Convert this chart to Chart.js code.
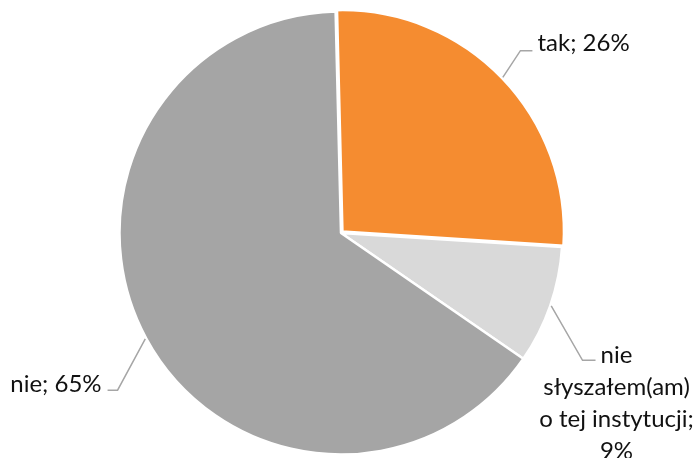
<!DOCTYPE html>
<html><head><meta charset="utf-8">
<script src="https://cdn.jsdelivr.net/npm/chart.js@4/dist/chart.umd.min.js"></script>
<style>html,body{margin:0;padding:0;background:#fff;}canvas{display:block;}</style>
</head><body>
<canvas id="c" width="698" height="458"></canvas>
<script>
const categories = ['tak', 'nie słyszałem(am) o tej instytucji', 'nie'];
const values = [26.4, 8.6, 65.0];
const colors = ['#F58C30', '#D9D9D9', '#A5A5A5'];

// label placement (leader elbow offsets from slice edge, horizontal tail, text layout)
const layout = [
  {dx: 17.6, dy: -26.7, h: 12, align: 'left', tx: 5, ty: 0, wrap: 0},
  {dx: 31.3, dy: 54.4, h: 13, align: 'center', tx: 21, ty: 3, wrap: 165},
  {dx: -27.7, dy: 51.4, h: -10, align: 'right', tx: -6, ty: 2, wrap: 0}
];
const FONT = '24px Lato';
const LINE_H = 32;

function wrapText(ctx, text, maxW) {
  if (!maxW) return [text];
  const words = text.split(' ');
  const lines = [];
  let cur = '';
  for (const w of words) {
    const t = cur ? cur + ' ' + w : w;
    if (cur && ctx.measureText(t).width > maxW) { lines.push(cur); cur = w; }
    else cur = t;
  }
  if (cur) lines.push(cur);
  return lines;
}

const leaderPlugin = {
  id: 'leaders',
  afterDatasetsDraw(chart) {
    const ctx = chart.ctx;
    const meta = chart.getDatasetMeta(0);
    const total = values.reduce((a, b) => a + b, 0);
    meta.data.forEach((arc, i) => {
      const p = arc.getProps(['x', 'y', 'startAngle', 'endAngle', 'outerRadius'], true);
      const off = (arc.options.offset || 0) / 4;
      const mid = (p.startAngle + p.endAngle) / 2;
      const cx = p.x + Math.cos(mid) * off, cy = p.y + Math.sin(mid) * off;
      const ax = cx + Math.cos(mid) * (p.outerRadius + 1);
      const ay = cy + Math.sin(mid) * (p.outerRadius + 1);
      const L = layout[i];
      const ex = ax + L.dx, ey = ay + L.dy, hx = ex + L.h;
      ctx.save();
      ctx.strokeStyle = '#A6A6A6';
      ctx.lineWidth = 1.5;
      ctx.beginPath();
      ctx.moveTo(ax, ay); ctx.lineTo(ex, ey); ctx.lineTo(hx, ey);
      ctx.stroke();
      ctx.font = FONT;
      ctx.fillStyle = '#111';
      ctx.textAlign = L.align;
      ctx.textBaseline = 'alphabetic';
      const pct = Math.round(values[i] / total * 100);
      const text = categories[i] + '; ' + pct + '%';
      const lines = wrapText(ctx, text, L.wrap);
      lines.forEach((ln, k) => ctx.fillText(ln, hx + L.tx, ey + L.ty + k * LINE_H));
      ctx.restore();
    });
  }
};

new Chart(document.getElementById('c'), {
  type: 'pie',
  data: {
    labels: categories,
    datasets: [{
      data: values,
      backgroundColor: colors,
      borderColor: '#FFFFFF',
      borderWidth: 2.5,
      offset: [8, 0, 0],
      radius: 221.5
    }]
  },
  options: {
    responsive: false,
    animation: false,
    rotation: -1.4,
    layout: {padding: {left: 0, right: 16, top: 8, bottom: 0}},
    plugins: {legend: {display: false}, tooltip: {enabled: false}}
  },
  plugins: [leaderPlugin]
});
</script>
</body></html>
